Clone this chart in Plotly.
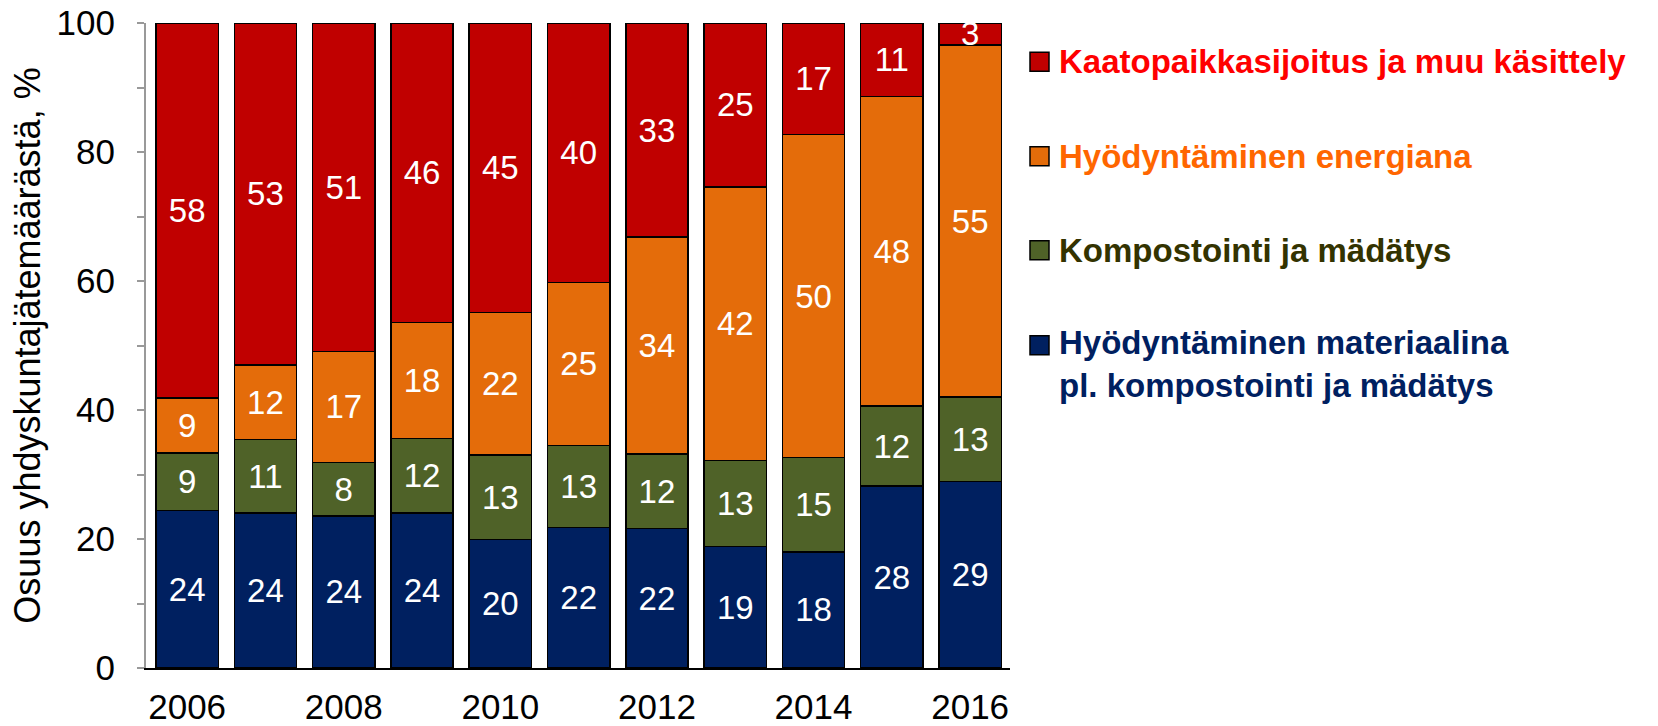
import plotly.graph_objects as go

years = [2006, 2007, 2008, 2009, 2010, 2011, 2012, 2013, 2014, 2015, 2016]
material = [24.4, 24.0, 23.6, 24.0, 19.9, 21.8, 21.6, 18.8, 18.0, 28.2, 28.9]
kompost = [8.9, 11.4, 8.3, 11.6, 13.1, 12.7, 11.6, 13.4, 14.6, 12.4, 13.1]
energia = [8.6, 11.6, 17.2, 18.0, 22.1, 25.3, 33.6, 42.4, 50.1, 48.0, 54.6]
kaato = [58.1, 53.0, 50.9, 46.4, 44.9, 40.2, 33.2, 25.4, 17.3, 11.4, 3.4]

names = [
    "Hyödyntäminen materiaalina<br>pl. kompostointi ja mädätys",
    "Kompostointi ja mädätys",
    "Hyödyntäminen energiana",
    "Kaatopaikkasijoitus ja muu käsittely",
]
series = [material, kompost, energia, kaato]
bar_colors = ["#002060", "#4F6228", "#E46C0A", "#C00000"]
text_colors = ["#002060", "#333300", "#FF6600", "#FF0000"]
xtick_vals = [2006, 2008, 2010, 2012, 2014, 2016]
ytick_vals = [0, 20, 40, 60, 80, 100]

FONT = "Liberation Sans, Arial, sans-serif"
W, H = 1658, 726
# plot area in pixels: x 146..1010, y 23..668
L, T = 146, 23
R = W - 1010
B = H - 668
PW, PH = W - L - R, H - T - B

fig = go.Figure()
for vals, nm, col in zip(series, names, bar_colors):
    fig.add_trace(go.Bar(
        x=years, y=vals, name=nm,
        marker=dict(color=col, line=dict(color="black", width=1.5)),
        texttemplate="%{y:.0f}", textposition="inside",
        insidetextanchor="middle", textangle=0, constraintext="none",
        insidetextfont=dict(color="white", size=33, family=FONT),
        showlegend=False,
    ))

def px2paper(px, py):
    return (px - L) / PW, (H - B - py) / PH

# manual legend (top to bottom: reversed trace order)
legend_y = [61.7, 156.2, 250.2, 345.2]
sq = 19
for i, idx in enumerate([3, 2, 1, 0]):
    cy = legend_y[i]
    x0, y0 = px2paper(1030, cy + sq / 2)
    x1, y1 = px2paper(1030 + sq, cy - sq / 2)
    fig.add_shape(type="rect", xref="paper", yref="paper", x0=x0, y0=y0, x1=x1, y1=y1,
                  fillcolor=bar_colors[idx], line=dict(color="black", width=1.5))
    multi = "<br>" in names[idx]
    ax, ay = px2paper(1057, cy)
    fig.add_annotation(xref="paper", yref="paper", x=ax, y=ay, xanchor="left",
                       yanchor="top" if multi else "middle",
                       yshift=23 if multi else 0,
                       text="<b>" + names[idx] + "</b>", showarrow=False, align="left",
                       font=dict(size=33, color=text_colors[idx], family=FONT))

fig.update_layout(
    width=W, height=H,
    margin=dict(l=L, r=R, t=T, b=B, autoexpand=False),
    barmode="stack", bargap=0.204,
    plot_bgcolor="white", paper_bgcolor="white",
    font=dict(family=FONT, size=35, color="black"),
    xaxis=dict(range=[2005.4745, 2016.509], tickmode="array", tickvals=xtick_vals,
               showline=True, linecolor="black", linewidth=2, ticks="",
               ticklabelstandoff=7,
               showgrid=False, zeroline=False, tickfont=dict(size=35), automargin=False),
    yaxis=dict(range=[0, 100], tickmode="array", tickvals=ytick_vals,
               showline=True, linecolor="#999999", linewidth=2,
               ticks="outside", ticklen=7, tickwidth=2, tickcolor="#999999",
               ticklabelstandoff=15,
               minor=dict(dtick=10, ticks="outside", ticklen=7, tickwidth=2, tickcolor="#999999"),
               showgrid=False, zeroline=False, tickfont=dict(size=35), automargin=False,
               title=dict(text="Osuus yhdyskuntajätemäärästä, %", font=dict(size=36), standoff=5)),
)

fig.write_html("out.html", config={"displayModeBar": False},
               post_script="document.body.style.margin='0';")
